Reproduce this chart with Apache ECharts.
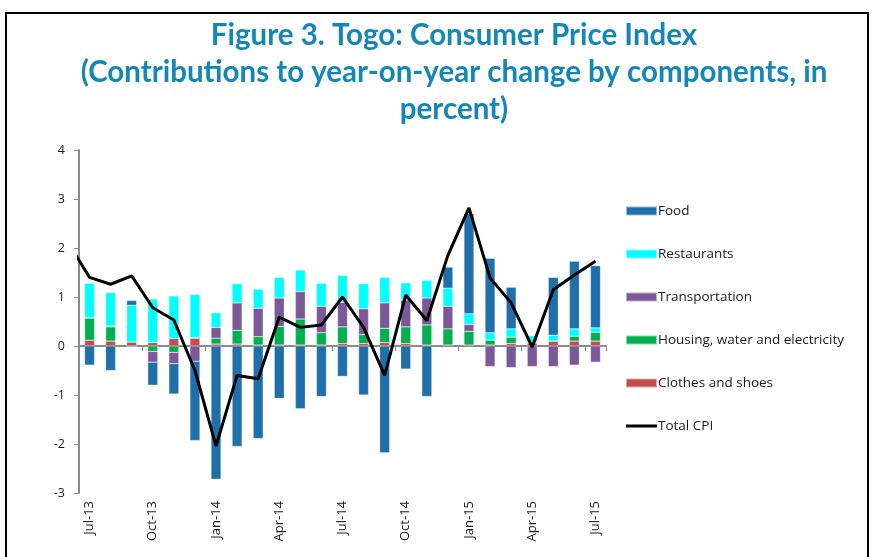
<!DOCTYPE html>
<html lang="en">
    <head>
        <meta charset="UTF-8">
        <title>Togo CPI contributions</title>
        <script src="https://cdn.jsdelivr.net/npm/echarts@6/dist/echarts.min.js"></script>
        <style>
            html, body { margin: 0; padding: 0; background: #fff; }
            #chart { width: 874px; height: 557px; }
        </style>
    </head>
    <body>
        <div id="chart"></div>
        <script>
            // months Jul-13 .. Jul-15
            var months = ['Jul-13','Aug-13','Sep-13','Oct-13','Nov-13','Dec-13','Jan-14','Feb-14','Mar-14',
                'Apr-14','May-14','Jun-14','Jul-14','Aug-14','Sep-14','Oct-14','Nov-14','Dec-14',
                'Jan-15','Feb-15','Mar-15','Apr-15','May-15','Jun-15','Jul-15'];

            // contributions, percentage points
            var food = [-0.39, -0.50, 0.10, -0.47, -0.62, -1.62, -2.72, -2.05, -1.89, -1.07, -1.28, -1.03, -0.62,
                -1.00, -2.18, -0.47, -1.03, 0.43, 2.04, 1.52, 0.85, 0.00, 1.18, 1.38, 1.27];
            var restaurants = [0.70, 0.68, 0.75, 0.89, 0.87, 0.88, 0.30, 0.39, 0.39, 0.42, 0.44, 0.47, 0.55,
                0.51, 0.52, 0.35, 0.36, 0.37, 0.22, 0.15, 0.17, 0.13, 0.12, 0.15, 0.09];
            var transport = [0.01, 0.02, 0.00, -0.22, -0.23, -0.31, 0.22, 0.56, 0.58, 0.58, 0.56, 0.54, 0.50,
                0.53, 0.52, 0.55, 0.55, 0.46, 0.14, -0.42, -0.44, -0.42, -0.42, -0.39, -0.33];
            var housing = [0.45, 0.29, -0.02, -0.11, -0.13, 0.01, 0.12, 0.28, 0.17, 0.38, 0.53, 0.25, 0.34,
                0.18, 0.29, 0.34, 0.41, 0.33, 0.28, 0.10, 0.13, 0.02, 0.00, 0.10, 0.18];
            var clothes = [0.12, 0.10, 0.08, 0.07, 0.15, 0.16, 0.04, 0.04, 0.02, 0.02, 0.02, 0.02, 0.05,
                0.05, 0.07, 0.05, 0.02, 0.02, 0.02, 0.02, 0.05, 0.06, 0.10, 0.10, 0.10];
            var totalCpi = [1.40, 1.26, 1.43, 0.78, 0.53, -0.50, -2.04, -0.60, -0.67, 0.59, 0.38, 0.43, 1.00,
                0.38, -0.60, 1.04, 0.52, 1.85, 2.82, 1.39, 0.88, -0.02, 1.15, 1.45, 1.73];
            // Jun-13 value, sits left of the axis and is clipped (line enters from the edge)
            var totalCpiJun13 = 2.1;

            var yTicks = { min: -3, max: 4, interval: 1 };

            var font = 'Open Sans';
            var chart = echarts.init(document.getElementById('chart'), null, { renderer: 'canvas' });

            function barSeries(name, data, color) {
                return {
                    name: name, type: 'bar', stack: 'c', data: data, barWidth: 10,
                    xAxisIndex: 0, yAxisIndex: 0,
                    itemStyle: { color: color, borderColor: 'rgba(255,255,255,0.5)', borderWidth: 0.5 },
                    emphasis: { disabled: true }
                };
            }

            var lineData = [[-1, totalCpiJun13]].concat(totalCpi.map(function (v, i) { return [i, v]; }));

            chart.setOption({
                animation: false,
                textStyle: { fontFamily: font },
                graphic: [{
                    type: 'rect', silent: true,
                    shape: { x: 6, y: 13, width: 862, height: 570 },
                    style: { fill: 'none', stroke: '#000', lineWidth: 2 }
                }],
                title: {
                    text: 'Figure 3. Togo: Consumer Price Index\n(Contributions to year-on-year change by components, in\npercent)',
                    left: 449, top: 12, textAlign: 'center',
                    textStyle: { fontFamily: 'Lato', fontWeight: 'bold', fontSize: 29.5, lineHeight: 37, color: '#1487b6' }
                },
                legend: {
                    orient: 'vertical', left: 620, top: 199,
                    itemWidth: 31, itemHeight: 9, itemGap: 29,
                    symbolKeepAspect: true,
                    textStyle: { fontFamily: font, fontSize: 13.5, color: '#1a1a1a', lineHeight: 14, padding: [0, 0, 0, -4] },
                    data: [
                        { name: 'Food', icon: 'rect' },
                        { name: 'Restaurants', icon: 'rect' },
                        { name: 'Transportation', icon: 'rect' },
                        { name: 'Housing, water and electricity', icon: 'rect' },
                        { name: 'Clothes and shoes', icon: 'rect' },
                        { name: 'Total CPI', icon: 'path://M0,0 L31,0 L31,3 L0,3 Z', itemStyle: { color: '#000' } }
                    ],
                    selectedMode: false
                },
                grid: { left: 79, right: 268, top: 150, bottom: 64, containLabel: false },
                xAxis: [{
                    type: 'category', data: months, position: 'bottom',
                    axisLine: { onZero: true, lineStyle: { color: '#8a8a8a', width: 2 } },
                    axisTick: { show: true, interval: 2, length: 5, lineStyle: { color: '#8a8a8a' } },
                    axisLabel: { show: false }
                }, {
                    type: 'category', data: months, position: 'bottom',
                    axisLine: { show: false, onZero: false },
                    axisTick: { show: false },
                    axisLabel: { interval: 2, rotate: 90, margin: 8, fontSize: 13, color: '#1a1a1a', fontFamily: font }
                }, {
                    type: 'value', min: -0.5, max: 24.5, show: false
                }],
                yAxis: {
                    type: 'value', min: yTicks.min, max: yTicks.max, interval: yTicks.interval,
                    axisLine: { show: true, onZero: false, lineStyle: { color: '#8a8a8a', width: 2 } },
                    axisTick: { show: true, length: 5, lineStyle: { color: '#8a8a8a' } },
                    axisLabel: { margin: 14, fontSize: 12.5, color: '#1a1a1a', fontFamily: font },
                    splitLine: { show: false }
                },
                series: [
                    barSeries('Clothes and shoes', clothes, '#c0504d'),
                    barSeries('Housing, water and electricity', housing, '#00b050'),
                    barSeries('Transportation', transport, '#7b5898'),
                    barSeries('Restaurants', restaurants, '#00ffff'),
                    barSeries('Food', food, '#1f70aa'),
                    {
                        name: 'Total CPI', type: 'line', data: lineData,
                        xAxisIndex: 2, yAxisIndex: 0, clip: true,
                        symbol: 'none', showSymbol: false,
                        lineStyle: { color: '#000', width: 3 },
                        itemStyle: { color: '#000' },
                        z: 5, emphasis: { disabled: true }
                    }
                ]
            });
        </script>
    </body>
</html>
